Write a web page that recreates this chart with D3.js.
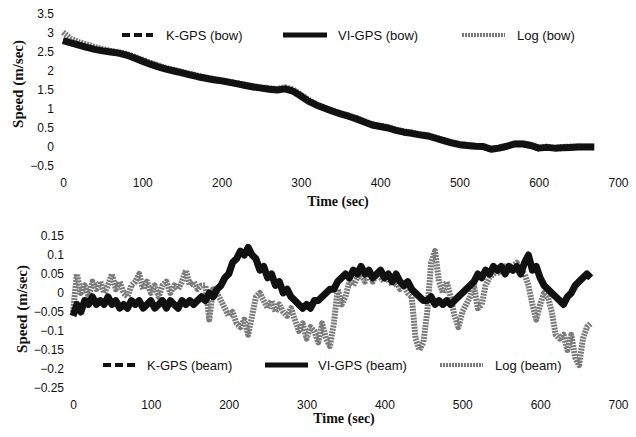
<!DOCTYPE html>
<html lang="en">
<head>
<meta charset="UTF-8">
<title>Bow and beam speed</title>
<style>
  body, html { margin: 0; padding: 0; background: #fff; }
  #svg { display: block; }
  .tick text { font-family: "Liberation Sans", Arial, sans-serif; font-size: 12px; fill: #111; }
  .legend text { font-family: "Liberation Sans", Arial, sans-serif; font-size: 13px; fill: #111; }
  .title { font-family: "Liberation Serif", "Times New Roman", serif; font-weight: bold; fill: #111; }
</style>
</head>
<body>
<svg id="svg" width="636" height="437"></svg>

<script src="https://d3js.org/d3.v7.min.js"></script>
<script>
// ---- data ----
// bow speed, one sample every 10 s (0..670)
const bowTime = d3.range(0, 680, 10)
const viGpsBow = [2.8, 2.74, 2.68, 2.62, 2.57, 2.53, 2.5, 2.47, 2.42, 2.34,
  2.26, 2.18, 2.11, 2.05, 2.0, 1.95, 1.9, 1.85, 1.81, 1.77,
  1.74, 1.7, 1.66, 1.62, 1.58, 1.55, 1.52, 1.5, 1.53, 1.47,
  1.34, 1.2, 1.1, 1.02, 0.94, 0.87, 0.81, 0.74, 0.66, 0.58,
  0.54, 0.5, 0.44, 0.39, 0.36, 0.32, 0.29, 0.23, 0.17, 0.11,
  0.06, 0.04, 0.02, 0.01, -0.06, -0.03, 0.02, 0.08, 0.08, 0.04,
  -0.03, -0.01, -0.03, -0.02, -0.01, 0.0, 0.0, 0.0]
const kGpsBow = viGpsBow // same track, drawn underneath
const logBow = [3.02, 2.85, 2.76, 2.7, 2.63, 2.58, 2.53, 2.5, 2.45, 2.38,
  2.3, 2.22, 2.15, 2.08, 2.03, 1.98, 1.93, 1.88, 1.83, 1.79,
  1.76, 1.72, 1.68, 1.64, 1.6, 1.57, 1.55, 1.53, 1.57, 1.52,
  1.38, 1.24, 1.12, 1.04, 0.96, 0.89, 0.83, 0.76, 0.68, 0.6,
  0.56, 0.52, 0.46, 0.41, 0.38, 0.34, 0.31, 0.25, 0.19, 0.13,
  0.08, 0.05, 0.03, 0.02, -0.05, -0.01, 0.03, 0.09, 0.09, 0.06,
  -0.02, 0.01, -0.03, 0.0, 0.01, 0.02, 0.01, 0.01]

// beam speed, one sample every 5 s (0..665)
const beamTime = d3.range(0, 670, 5)
const viGpsBeam = [-0.06, -0.03, -0.05, -0.02, -0.03, -0.01, -0.03, -0.02, -0.03, -0.01,
  -0.03, -0.02, -0.04, -0.03, -0.04, -0.02, -0.03, -0.02, -0.04, -0.03,
  -0.02, -0.04, -0.03, -0.02, -0.04, -0.02, -0.03, -0.04, -0.02, -0.03,
  -0.02, -0.03, -0.02, -0.01, -0.02, 0.0, -0.01, 0.01, 0.02, 0.04,
  0.05, 0.08, 0.09, 0.11, 0.1, 0.12, 0.1, 0.09, 0.06, 0.07,
  0.04, 0.05, 0.02, 0.03, 0.0, 0.01, -0.01, -0.02, -0.03, -0.04,
  -0.03, -0.04, -0.02, -0.02, -0.01, 0.0, 0.01, 0.01, 0.03, 0.04,
  0.05, 0.04, 0.06, 0.05, 0.07, 0.05, 0.06, 0.04, 0.05, 0.06,
  0.04, 0.05, 0.03, 0.05, 0.03, 0.02, 0.03, 0.01, 0.0, -0.01,
  -0.02, -0.02, -0.01, -0.03, -0.02, -0.03, -0.02, -0.03, -0.02, -0.01,
  0.0, 0.01, 0.02, 0.03, 0.05, 0.04, 0.06, 0.05, 0.07, 0.06,
  0.07, 0.05, 0.07, 0.06, 0.07, 0.05, 0.08, 0.1, 0.06, 0.07,
  0.04, 0.02, 0.01, 0.0, -0.01, -0.02, -0.03, -0.01, 0.0, 0.02,
  0.03, 0.04, 0.05, 0.04]
const kGpsBeam = viGpsBeam
const logBeam = [-0.05, 0.05, 0.0, 0.02, -0.01, 0.03, 0.01, 0.03, 0.0, 0.02,
  0.05, 0.01, 0.03, 0.0, -0.01, 0.02, 0.03, 0.05, 0.01, 0.03,
  0.0, 0.02, -0.01, 0.02, 0.03, 0.0, 0.02, 0.01, 0.03, 0.06,
  0.02, 0.03, 0.01, 0.02, 0.02, -0.07, 0.01, 0.0, -0.02, -0.04,
  -0.06, -0.05, -0.08, -0.09, -0.07, -0.11, -0.06, -0.01, 0.0, -0.02,
  -0.04, -0.02, -0.05, -0.03, -0.05, -0.06, -0.04, -0.07, -0.1, -0.08,
  -0.12, -0.09, -0.1, -0.13, -0.08, -0.12, -0.14, -0.08, 0.01, -0.03,
  -0.01, 0.03, 0.02, 0.04, 0.05, 0.03, 0.06, 0.03, 0.05, 0.04,
  0.03, 0.05, 0.02, 0.03, 0.01, 0.02, 0.0, -0.01, -0.12, -0.15,
  -0.13, -0.05, 0.08, 0.11, 0.03, 0.0, 0.03, -0.01, -0.06, -0.09,
  -0.05, -0.03, -0.01, 0.02, -0.04, -0.03, 0.02, 0.04, 0.05, 0.06,
  0.05, 0.07, 0.06, 0.07, 0.08, 0.06, 0.05, 0.02, -0.03, -0.07,
  -0.03, 0.0, -0.01, -0.05, -0.11, -0.12, -0.11, -0.15, -0.11, -0.17,
  -0.19, -0.12, -0.09, -0.08]

const timeTicks = [0, 100, 200, 300, 400, 500, 600, 700]
const bowTicks = [-0.5, 0, 0.5, 1, 1.5, 2, 2.5, 3, 3.5]
const beamTicks = [-0.25, -0.2, -0.15, -0.1, -0.05, 0, 0.05, 0.1, 0.15]
const bowNames = ['K-GPS (bow)', 'VI-GPS (bow)', 'Log (bow)']
const beamNames = ['K-GPS (beam)', 'VI-GPS (beam)', 'Log (beam)']

const svg = d3.select('#svg')
const fmt = d => String(+d.toFixed(2)).replace('-', '\u2212')

// line styles: K-GPS dashed, VI-GPS solid, Log grey speckled
const styles = [
  { stroke: '#111', width: 5, dash: '8 4' },
  { stroke: '#111', width: 7, dash: null },
  { stroke: '#7a7a7a', width: 6, dash: '2 1' }
]

function drawPanel(opt) {
  const x = d3.scaleLinear().domain([0, 700]).range(opt.xr)
  const y = d3.scaleLinear().domain(opt.yd).range(opt.yr)

  svg.append('g')
    .attr('transform', `translate(0,${opt.xAxisY})`)
    .call(d3.axisBottom(x).tickValues(timeTicks).tickSize(0).tickPadding(0).tickFormat(d3.format('d')))
    .call(g => g.select('.domain').remove())

  svg.append('g')
    .attr('transform', `translate(${opt.xr[0] - 9},0)`)
    .call(d3.axisLeft(y).tickValues(opt.ticks).tickSize(0).tickPadding(0).tickFormat(fmt))
    .call(g => g.select('.domain').remove())

  const line = d3.line()
    .x((d, i) => x(opt.time[i]))
    .y(d => y(d))

  // log first, GPS on top
  const order = [2, 0, 1]
  order.forEach(k => {
    const s = styles[k]
    svg.append('path')
      .attr('d', line(opt.series[k]))
      .attr('fill', 'none')
      .attr('stroke', s.stroke)
      .attr('stroke-width', s.width)
      .attr('stroke-dasharray', s.dash)
      .attr('stroke-linejoin', 'round')
  })

  // legend
  const lg = svg.append('g').attr('class', 'legend')
  opt.legend.forEach((it, k) => {
    const s = styles[k]
    lg.append('line')
      .attr('x1', it[0]).attr('x2', it[1])
      .attr('y1', opt.legendY).attr('y2', opt.legendY)
      .attr('stroke', s.stroke)
      .attr('stroke-width', k === 1 ? 5 : 4)
      .attr('stroke-dasharray', k === 0 ? '8 4' : (k === 2 ? '2 1' : null))
    lg.append('text')
      .attr('x', it[2]).attr('y', opt.legendY)
      .attr('dy', '0.35em')
      .text(opt.names[k])
  })

  svg.append('text').attr('class', 'title')
    .attr('x', opt.timeLabel[0]).attr('y', opt.timeLabel[1])
    .attr('text-anchor', 'middle').attr('dy', '0.35em')
    .style('font-size', '14px')
    .text('Time (sec)')

  svg.append('text').attr('class', 'title')
    .attr('transform', `translate(${opt.speedLabel[0]},${opt.speedLabel[1]}) rotate(-90)`)
    .attr('text-anchor', 'middle').attr('dy', '0.35em')
    .style('font-size', '15px')
    .text('Speed (m/sec)')
}

drawPanel({
  xr: [63, 618], yd: [-0.5, 3.5], yr: [166, 14], xAxisY: 178,
  ticks: bowTicks, time: bowTime,
  series: [kGpsBow, viGpsBow, logBow], names: bowNames,
  legendY: 35,
  legend: [[122, 153, 166], [283, 327, 338], [462, 505, 517]],
  timeLabel: [338, 201], speedLabel: [18, 84]
})

drawPanel({
  xr: [73, 618], yd: [-0.25, 0.15], yr: [388, 236], xAxisY: 400,
  ticks: beamTicks, time: beamTime,
  series: [kGpsBeam, viGpsBeam, logBeam], names: beamNames,
  legendY: 365,
  legend: [[103, 138, 147], [265, 308, 318], [440, 483, 495]],
  timeLabel: [344, 418], speedLabel: [22, 309]
})
</script>
</body>
</html>
